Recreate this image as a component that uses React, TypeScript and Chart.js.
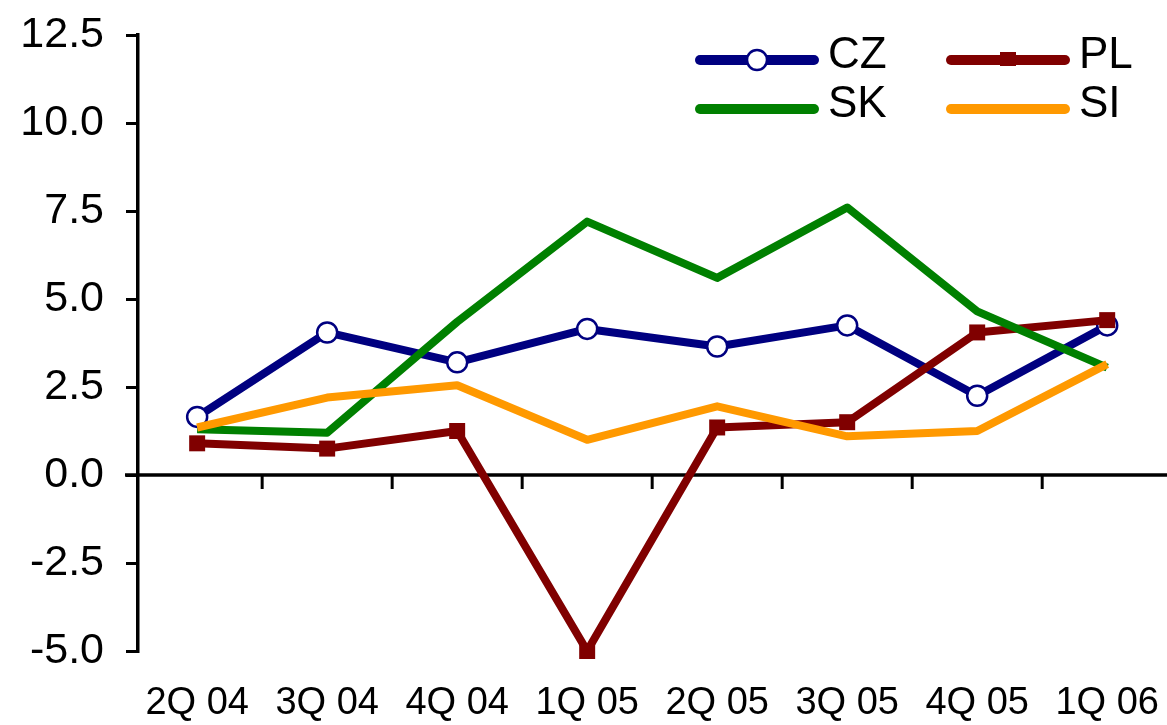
import React, { useEffect, useRef } from 'react';
import { Chart, registerables } from 'chart.js';

Chart.register(...registerables);

const categories = ['2Q 04', '3Q 04', '4Q 04', '1Q 05', '2Q 05', '3Q 05', '4Q 05', '1Q 06'];
const seriesNames = ['CZ', 'PL', 'SK', 'SI'];
const czValues = [1.65, 4.05, 3.2, 4.15, 3.65, 4.25, 2.25, 4.25];
const plValues = [0.9, 0.75, 1.25, -5.0, 1.35, 1.5, 4.05, 4.4];
const skValues = [1.3, 1.2, 4.35, 7.2, 5.6, 7.6, 4.65, 3.05];
const siValues = [1.35, 2.2, 2.55, 1.0, 1.95, 1.1, 1.25, 3.15];
const yMin = -5;
const yMax = 12.5;
const yStep = 2.5;

const FONT = '"Liberation Sans", Arial, sans-serif';

const toPoints = (vals: number[]) => vals.map((v, i) => ({ x: i, y: v }));

const zeroLinePlugin = {
  id: 'zeroLine',
  beforeDatasetsDraw(chart: any) {
    const { ctx, chartArea, scales } = chart;
    const y = scales.y.getPixelForValue(0);
    ctx.save();
    ctx.strokeStyle = '#000';
    ctx.lineWidth = 3.5;
    ctx.beginPath();
    ctx.moveTo(chartArea.left - 13, y);
    ctx.lineTo(chartArea.right, y);
    ctx.stroke();
    ctx.lineWidth = 3;
    for (let i = 0; i < categories.length - 1; i++) {
      const x = scales.x.getPixelForValue(i + 0.5);
      ctx.beginPath();
      ctx.moveTo(x, y);
      ctx.lineTo(x, y + 14);
      ctx.stroke();
    }
    ctx.restore();
  },
};

const legendPlugin = {
  id: 'cornerLegend',
  afterDraw(chart: any) {
    const { ctx } = chart;
    const cols = [696, 947];
    const rows = [60, 109];
    const lineLen = 122;
    ctx.save();
    seriesNames.forEach((name, i) => {
      const ds = chart.data.datasets[i];
      const x0 = cols[i % 2];
      const y0 = rows[Math.floor(i / 2)];
      ctx.strokeStyle = ds.borderColor;
      ctx.lineWidth = 10;
      ctx.lineCap = 'round';
      ctx.beginPath();
      ctx.moveTo(x0 + 4, y0);
      ctx.lineTo(x0 + lineLen - 4, y0);
      ctx.stroke();
      const cx = x0 + lineLen / 2;
      if (ds.pointStyle === 'circle') {
        ctx.fillStyle = '#fff';
        ctx.lineWidth = 2.5;
        ctx.beginPath();
        ctx.arc(cx, y0, 10, 0, Math.PI * 2);
        ctx.fill();
        ctx.stroke();
      } else if (ds.pointStyle === 'rect') {
        ctx.fillStyle = ds.borderColor;
        ctx.fillRect(cx - 8, y0 - 8, 16, 14);
      }
      ctx.fillStyle = '#000';
      ctx.font = `44px ${FONT}`;
      ctx.textAlign = 'left';
      ctx.textBaseline = 'middle';
      ctx.fillText(name, x0 + 132, y0 - 4);
    });
    ctx.restore();
  },
};

export default function App() {
  const canvasRef = useRef<HTMLCanvasElement | null>(null);

  useEffect(() => {
    const canvas = canvasRef.current;
    if (!canvas) return;
    const chart = new Chart(canvas, {
      type: 'line',
      data: {
        datasets: [
          {
            label: seriesNames[0],
            data: toPoints(czValues),
            borderColor: '#000080',
            backgroundColor: '#000080',
            borderWidth: 8,
            borderJoinStyle: 'round',
            pointStyle: 'circle',
            pointRadius: 10,
            pointBorderWidth: 2.5,
            pointBackgroundColor: '#ffffff',
            pointBorderColor: '#000080',
            order: 4,
            clip: false,
          },
          {
            label: seriesNames[1],
            data: toPoints(plValues),
            borderColor: '#800000',
            backgroundColor: '#800000',
            borderWidth: 8,
            borderJoinStyle: 'round',
            pointStyle: 'rect',
            pointRadius: 11.3,
            pointBorderWidth: 0,
            pointBackgroundColor: '#800000',
            pointBorderColor: '#800000',
            order: 3,
            clip: false,
          },
          {
            label: seriesNames[2],
            data: toPoints(skValues),
            borderColor: '#008000',
            backgroundColor: '#008000',
            borderWidth: 8,
            borderJoinStyle: 'round',
            pointRadius: 0,
            order: 2,
            clip: false,
          },
          {
            label: seriesNames[3],
            data: toPoints(siValues),
            borderColor: '#FF9900',
            backgroundColor: '#FF9900',
            borderWidth: 8,
            borderJoinStyle: 'round',
            pointRadius: 0,
            order: 1,
            clip: false,
          },
        ] as any,
      },
      options: {
        animation: false,
        responsive: false,
        devicePixelRatio: 1,
        layout: { autoPadding: false, padding: { top: 35, left: 0, right: 0, bottom: 0 } },
        plugins: {
          legend: { display: false },
          tooltip: { enabled: false },
        },
        scales: {
          x: {
            type: 'linear',
            min: -0.455,
            max: 7.46,
            afterFit: (scale: any) => {
              scale.height = 74;
              scale.paddingLeft = 0;
              scale.paddingRight = 0;
              scale.paddingTop = 0;
              scale.paddingBottom = 0;
            },
            grid: { display: false, drawTicks: false },
            border: { display: false },
            ticks: {
              stepSize: 1,
              includeBounds: false,
              autoSkip: false,
              maxRotation: 0,
              minRotation: 0,
              padding: 30,
              color: '#000',
              font: { family: FONT, size: 38 },
              callback: (v: any) => (Number.isInteger(v) ? categories[v] : ''),
            },
          },
          y: {
            type: 'linear',
            min: yMin,
            max: yMax,
            afterFit: (scale: any) => {
              scale.width = 138;
              scale.paddingLeft = 0;
              scale.paddingRight = 0;
              scale.paddingTop = 0;
              scale.paddingBottom = 0;
            },
            grid: {
              display: true,
              drawOnChartArea: false,
              drawTicks: true,
              tickLength: 12,
              color: '#000',
              lineWidth: 3,
            },
            border: { display: true, color: '#000', width: 3.5 },
            ticks: {
              stepSize: yStep,
              padding: 22,
              color: '#000',
              font: { family: FONT, size: 43 },
              callback: (v: any) => Number(v).toFixed(1),
            },
          },
        },
      } as any,
      plugins: [zeroLinePlugin, legendPlugin],
    });
    return () => chart.destroy();
  }, []);

  return (
    <div style={{ position: 'fixed', left: 0, top: 0, width: 1167, height: 725, background: '#fff' }}>
      <canvas ref={canvasRef} width={1167} height={725} style={{ width: 1167, height: 725 }} />
    </div>
  );
}
